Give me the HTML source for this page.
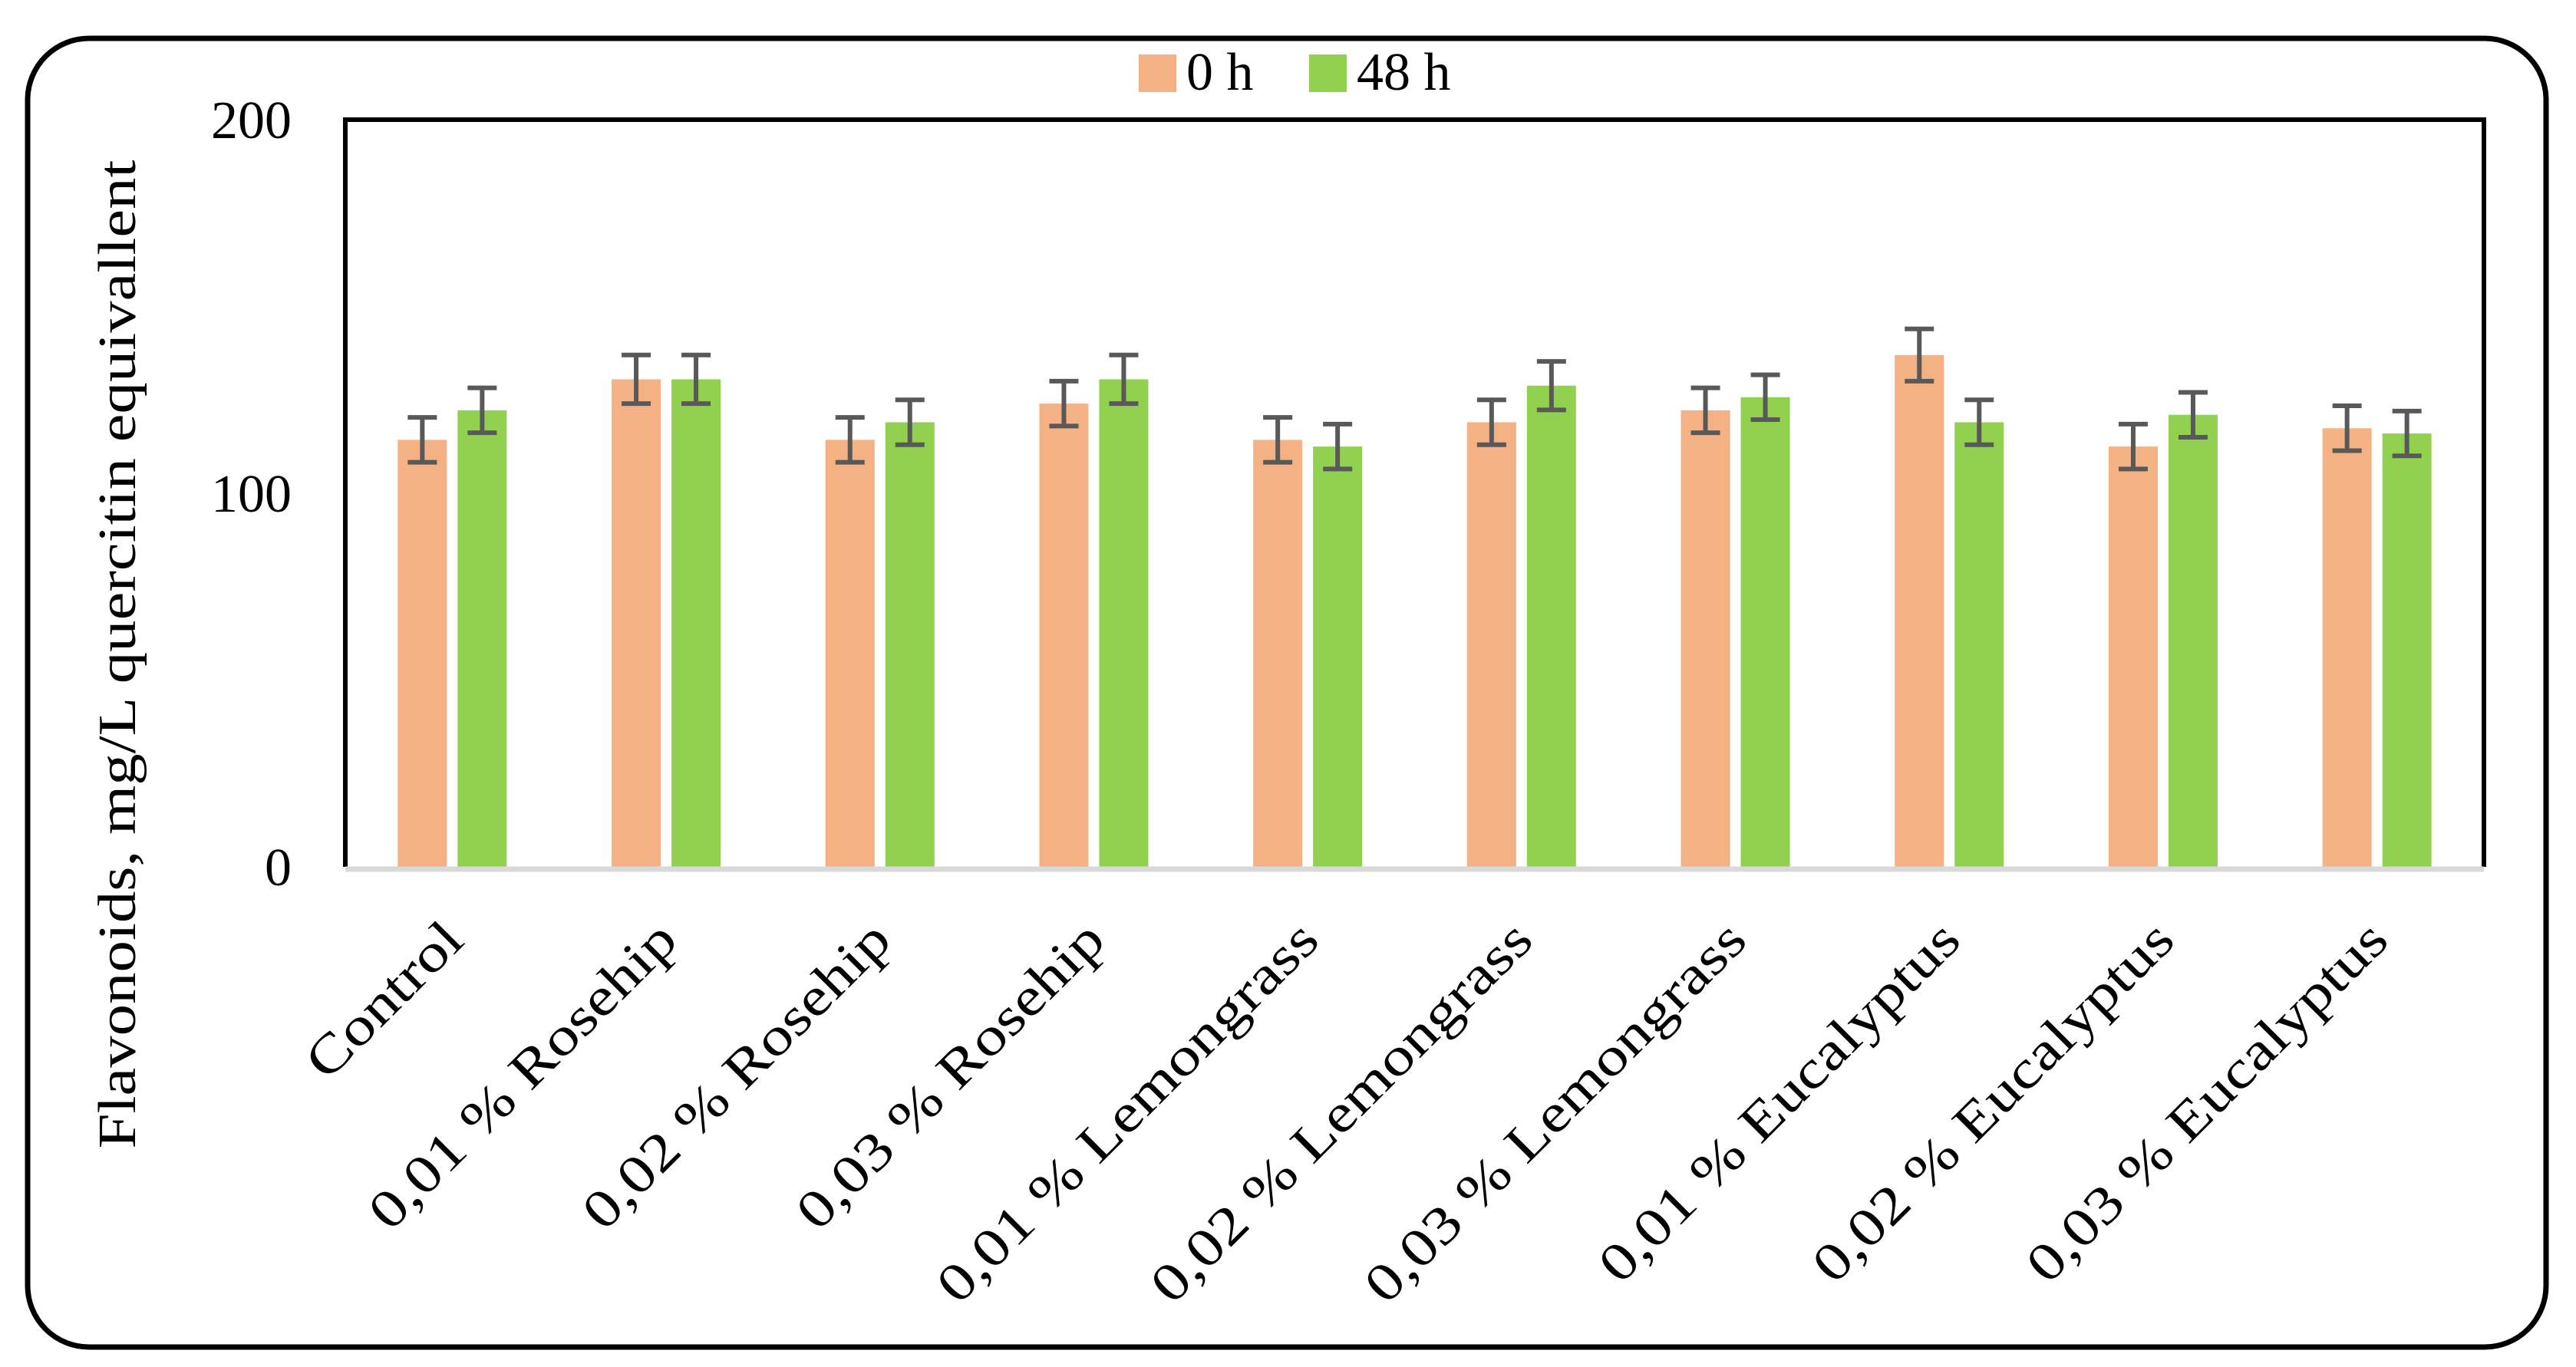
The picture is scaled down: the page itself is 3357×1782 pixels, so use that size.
<!DOCTYPE html>
<html><head><meta charset="utf-8"><style>
html,body{margin:0;padding:0;background:#fff;}
svg{display:block;}
text{font-family:"Liberation Serif",serif;fill:#000;}
</style></head><body>
<svg id="chart" width="3357" height="1782" viewBox="0 0 3357 1782" xmlns="http://www.w3.org/2000/svg">
<rect x="36" y="50" width="3282" height="1706" rx="80" ry="80" fill="#fff" stroke="#000" stroke-width="7"/>
<g id="plot"></g>
<g>
<rect x="1484" y="71" width="49" height="49" fill="#F4B183"/>
<text x="1546" y="117" font-size="70">0 h</text>
<rect x="1706" y="71" width="49" height="49" fill="#92D050"/>
<text x="1768" y="117" font-size="70">48 h</text>
</g>
<text transform="translate(176,853) rotate(-90)" text-anchor="middle" font-size="70" textLength="1289" lengthAdjust="spacingAndGlyphs">Flavonoids, mg/L quercitin equivallent</text>
</svg>
<script>
const categories = ["Control","0,01 % Rosehip","0,02 % Rosehip","0,03 % Rosehip","0,01 % Lemongrass","0,02 % Lemongrass","0,03 % Lemongrass","0,01 % Eucalyptus","0,02 % Eucalyptus","0,03 % Eucalyptus"];
const values0h = [114.3,130.5,114.3,124,114.3,119,122.2,137,112.5,117.4];
const values48h = [122.2,130.5,119,130.5,112.5,128.8,125.7,119,121,116];
const err0h = [6,6.5,6,6,6,6,6,7,6,6];
const err48h = [6,6.5,6,6.5,6,6.5,6,6,6,6];
const yTicks = [0,100,200];

const NS="http://www.w3.org/2000/svg";
const L=450,R=3237,T=156,B=1130;
const yMax=200;
const y=v=>B-(v/yMax)*(B-T);
const band=(R-L)/categories.length;
const xc=i=>L+band*(i+0.5);
const g=document.getElementById('plot');
function mk(tag,attrs){const e=document.createElementNS(NS,tag);for(const k in attrs)e.setAttribute(k,attrs[k]);g.appendChild(e);return e;}

yTicks.forEach(t=>{
  const e=mk('text',{x:380,y:y(t)+24,'text-anchor':'end','font-size':70});
  e.textContent=t;
  
  
});

const series=[{vals:values0h,err:err0h,color:'#F4B183',off:-71,name:'0h'},{vals:values48h,err:err48h,color:'#92D050',off:7,name:'48h'}];
categories.forEach((c,i)=>{
  series.forEach(s=>{
    const v=s.vals[i];
    const bx=xc(i)+s.off;
    const r=mk('rect',{x:bx,y:y(v),width:64,height:B-y(v),fill:s.color});
    
    
    const cx=bx+32, hi=y(v+s.err[i]), lo=y(v-s.err[i]);
    const eb=mk('path',{d:`M${cx},${hi}V${lo}M${cx-19},${hi}H${cx+19}M${cx-19},${lo}H${cx+19}`,stroke:'#595959','stroke-width':6,fill:'none'});
    
    
  });
  const t=mk('text',{'text-anchor':'end','font-size':70,transform:`translate(${xc(i)+18},1229) rotate(-45) scale(1.2,1)`});
  t.textContent=c;
  
  
});

const frame=mk('path',{d:`M${L},${B}V${T}H${R}V${B}`,stroke:'#000','stroke-width':6,fill:'none'});


const base=mk('line',{x1:L,x2:R,y1:B+3,y2:B+3,stroke:'#D9D9D9','stroke-width':7});


</script>
</body></html>
